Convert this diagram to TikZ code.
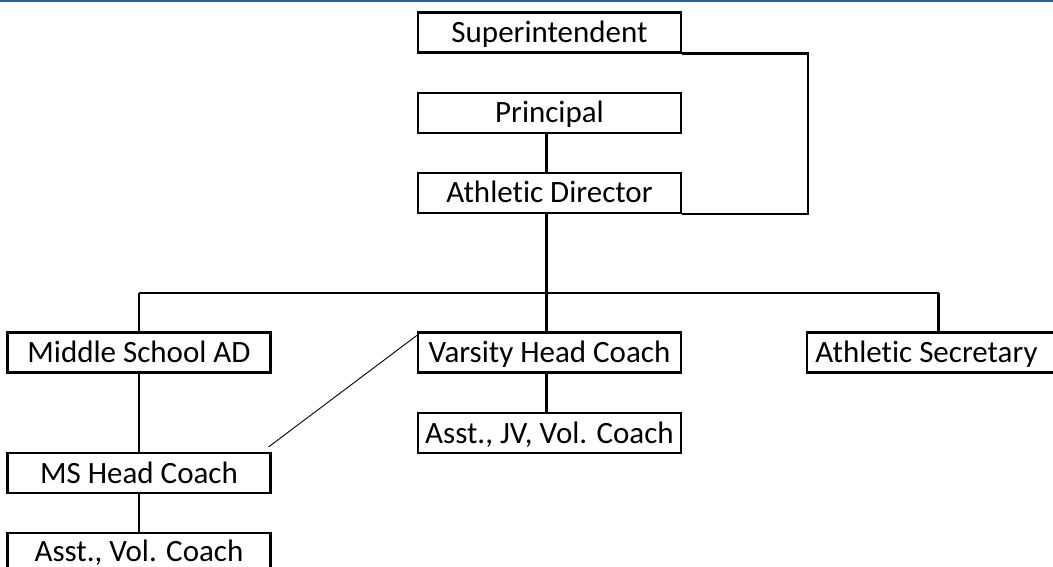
\documentclass[tikz,border=0pt]{standalone}
\usepackage{fontspec}
\setmainfont{Carlito}[Ligatures={NoCommon}]
\usetikzlibrary{calc}
\definecolor{topblue}{HTML}{2F5F98}
\begin{document}
\begin{tikzpicture}[x=1pt,y=-1pt,
  box/.style={draw=black, line width=2.2pt, minimum width=263pt, minimum height=40pt,
    inner sep=0pt, text height=24pt, text depth=4pt,
    font=\fontsize{31}{36}\selectfont},
  link/.style={draw=black, line width=2.2pt},
  thin link/.style={draw=black, line width=0.9pt}]
\useasboundingbox (0,0) rectangle (1053,567);
\fill[topblue] (0,0) rectangle (1053,2.5);
% nodes
\node[box] (sup)  at (549.5,32.5) {Superintendent};
\node[box] (prin) at (549.5,113)  {Principal};
\node[box] (ad)   at (549.5,193)  {Athletic Director};
\node[box] (msad) at (139,352.5)  {Middle School AD};
\node[box] (vhc)  at (549.5,352.5){Varsity Head Coach};
\node[box] (sec)  at (938.5,352.5){Athletic Secretary\hspace*{24pt}};
\node[box] (ajv)  at (549.5,433)  {Asst., JV, Vol. Coach};
\node[box] (msh)  at (139,473)    {MS Head Coach};
\node[box, text height=20pt] (avc)  at (139,553)    {Asst., Vol. Coach};
% coordinates
\coordinate (rc) at (808,0);
\coordinate (bus) at (0,293);
% connectors
\draw[link] (sup.south east) -- (sup.south east -| rc) -- (ad.south east -| rc) -- (ad.south east);
\draw[link] ($(prin.south)+(-3,0)$) -- ($(ad.north)+(-3,0)$);
\draw[link] ($(ad.south)+(-3,0)$) -- ($(ad.south |- bus)+(-3,0)$);
\draw[link] (msad.north |- bus) -- (sec.north |- bus);
\draw[link] (msad.north |- bus) -- (msad.north);
\draw[link] ($(vhc.north |- bus)+(-3,0)$) -- ($(vhc.north)+(-3,0)$);
\draw[link] (sec.north |- bus) -- (sec.north);
\draw[link] ($(vhc.south)+(-3,0)$) -- ($(ajv.north)+(-3,0)$);
\draw[link] (msad.south) -- (msh.north);
\draw[link] (msh.south) -- (avc.north);
\draw[thin link] ($(msh.north east)+(-3,-5)$) -- ($(vhc.north west)+(0,4)$);
\end{tikzpicture}
\end{document}
